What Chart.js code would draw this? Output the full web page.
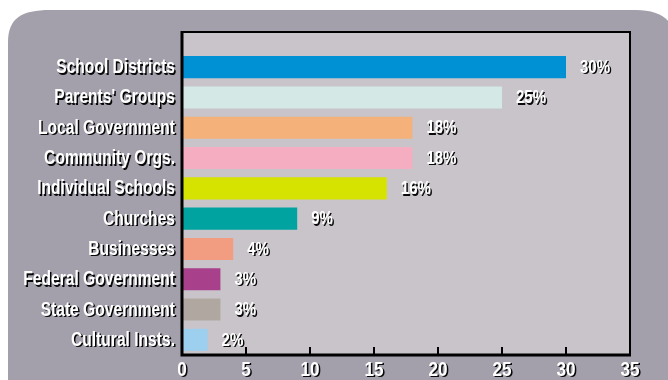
<!DOCTYPE html>
<html>
<head>
<meta charset="utf-8">
<script src="https://cdn.jsdelivr.net/npm/chart.js@4"></script>
<style>
    body { margin: 0; background: #ffffff; }
    #wrap { width: 668px; height: 380px; position: relative; }
</style>
</head>
<body>
<div id="wrap"><canvas id="chart"></canvas></div>
<script>
const categories = [
    'School Districts', "Parents' Groups", 'Local Government', 'Community Orgs.',
    'Individual Schools', 'Churches', 'Businesses', 'Federal Government',
    'State Government', 'Cultural Insts.'
];
const values = [30, 25, 18, 18, 16, 9, 4, 3, 3, 2];
const valueLabels = ['30%', '25%', '18%', '18%', '16%', '9%', '4%', '3%', '3%', '2%'];
const xTickValues = [0, 5, 10, 15, 20, 25, 30, 35];
const barColors = [
    '#0091d5', '#d4e9e6', '#f4b27a', '#f4adc1', '#d6e300',
    '#00a3a0', '#f29c82', '#a8408b', '#b0a7a0', '#9dcfee'
];

const FONT = '"Liberation Sans", Arial, sans-serif';

// white text with the dark drop shadow, squeezed sideways to look condensed
function shadowText(ctx, text, x, y, size, align, squeeze) {
    ctx.save();
    ctx.font = `bold ${size}px ${FONT}`;
    ctx.textAlign = align;
    ctx.textBaseline = 'middle';
    ctx.shadowColor = 'rgba(0,0,0,0.95)';
    ctx.shadowOffsetX = 1.5;
    ctx.shadowOffsetY = 1.5;
    ctx.shadowBlur = 0.5;
    ctx.fillStyle = '#ffffff';
    ctx.translate(x, y);
    ctx.scale(squeeze, 1);
    ctx.fillText(text, 0, 0);
    ctx.restore();
}

const framePlugin = {
    id: 'frame',
    beforeDraw(chart) {
        const ctx = chart.ctx;
        const a = chart.chartArea;
        ctx.save();
        // outer panel
        ctx.fillStyle = '#a39fab';
        ctx.beginPath();
        ctx.moveTo(8, 400);
        ctx.lineTo(8, 42);
        ctx.bezierCurveTo(8, 18, 22, 10, 50, 10);
        ctx.lineTo(636, 10);
        ctx.bezierCurveTo(660, 10, 674, 20, 676, 40);
        ctx.lineTo(676, 400);
        ctx.closePath();
        ctx.fill();
        // plot background
        ctx.fillStyle = '#c9c4ca';
        ctx.fillRect(a.left, a.top - 20, a.right - a.left, a.bottom - a.top + 20);
        ctx.restore();
    },
    afterDatasetsDraw(chart) {
        const ctx = chart.ctx;
        const a = chart.chartArea;
        const xs = chart.scales.x;
        const ys = chart.scales.y;
        ctx.save();
        ctx.strokeStyle = '#000000';
        // top and right frame
        ctx.lineWidth = 2;
        ctx.beginPath();
        ctx.moveTo(a.left, a.top - 20);
        ctx.lineTo(a.right, a.top - 20);
        ctx.lineTo(a.right, a.bottom);
        ctx.stroke();
        // axes
        ctx.lineWidth = 3;
        ctx.beginPath();
        ctx.moveTo(a.left, a.top - 21);
        ctx.lineTo(a.left, a.bottom);
        ctx.lineTo(a.right + 1, a.bottom);
        ctx.stroke();
        // inner tick marks
        ctx.lineWidth = 2;
        for (const v of xTickValues) {
            const px = xs.getPixelForValue(v);
            ctx.beginPath();
            ctx.moveTo(px, a.bottom);
            ctx.lineTo(px, a.bottom - 8);
            ctx.stroke();
        }
        ctx.restore();

        for (let i = 0; i < categories.length; i++) {
            const py = ys.getPixelForTick(i) + 0.5;
            shadowText(ctx, categories[i], a.left - 7, py, 20, 'right', 0.78);
            shadowText(ctx, valueLabels[i], xs.getPixelForValue(values[i]) + 14, py, 19, 'left', 0.79);
        }
        for (const v of xTickValues) {
            shadowText(ctx, String(v), xs.getPixelForValue(v), a.bottom + 15, 21, 'center', 0.82);
        }
    }
};

new Chart(document.getElementById('chart'), {
    type: 'bar',
    data: {
        labels: categories,
        datasets: [{
            data: values,
            backgroundColor: barColors,
            borderWidth: 0,
            categoryPercentage: 1,
            barPercentage: 0.73,
        }]
    },
    options: {
        indexAxis: 'y',
        responsive: true,
        maintainAspectRatio: false,
        animation: false,
        layout: {
            padding: { left: 182, right: 38, top: 52, bottom: 25 }
        },
        scales: {
            x: { display: false, min: 0, max: 35 },
            y: { display: false }
        },
        plugins: {
            legend: { display: false },
            tooltip: { enabled: false }
        }
    },
    plugins: [framePlugin]
});
</script>
</body>
</html>
